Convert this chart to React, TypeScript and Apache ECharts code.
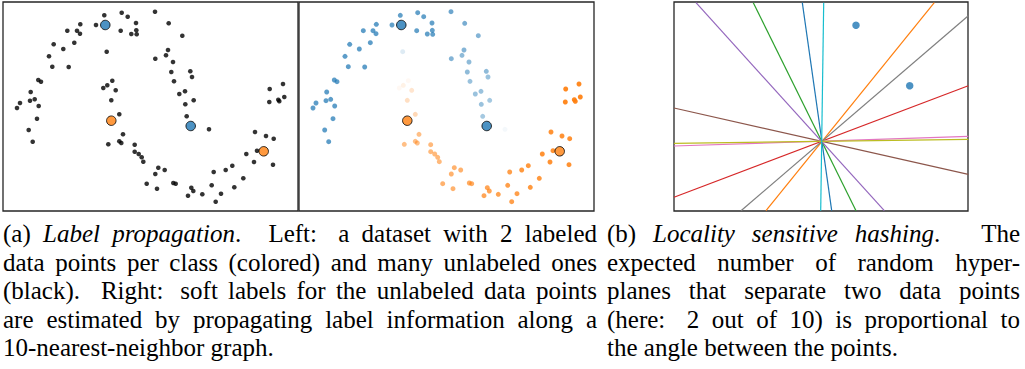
import React, { useEffect, useRef } from "react";
import * as echarts from "echarts";

// ---------- Panel (a): two-moons dataset (panel units, y up) ----------
const upperX = [101.3, 118.7, 124.7, 152, 133, 165.7, 77.3, 93, 64.3, 74, 77, 117.7, 133.3, 128.3, 133.7, 179.3, 71.3, 50.7, 60.3, 103.7, 165, 163, 152.3, 46, 170, 49.3, 65.7, 168.3, 187.3, 189, 35.3, 38, 171, 27.7, 182, 176.3, 31.7, 27, 190.7, 17, 14, 35.7, 182.3, 183.7, 34, 206, 25.7, 29.7];
const upperY = [195.7, 198.3, 194.3, 199.3, 188, 187.7, 186.7, 186, 180.3, 180.3, 177.3, 180.3, 180.7, 177, 176.7, 175.3, 168.3, 166.7, 162, 159.3, 161, 155.7, 152.3, 154.7, 149, 144.3, 144, 139, 139.7, 134, 131, 129.3, 129.7, 119, 119.7, 117, 111.7, 110.3, 110.7, 108, 103, 105, 106.7, 94.7, 92.3, 81.7, 81, 69.3];
const upperConf = [0.7, 0.7, 0.7, 0.65, 0.7, 0.6, 0.72, 0.7, 0.72, 0.72, 0.72, 0.7, 0.7, 0.7, 0.7, 0.55, 0.72, 0.72, 0.72, 0.15, 0.55, 0.5, 0.55, 0.72, 0.5, 0.72, 0.72, 0.5, 0.5, 0.45, 0.72, 0.72, 0.45, 0.72, 0.45, 0.45, 0.72, 0.72, 0.4, 0.72, 0.72, 0.72, 0.45, 0.4, 0.72, 0.05, 0.72, 0.72];

const lowerX = [109.3, 104.3, 100.3, 112.7, 266.7, 280, 108.3, 275.3, 281.3, 266.3, 276.3, 116.3, 252, 120, 263, 270.7, 116.3, 118.3, 105.3, 131.7, 131.7, 135.7, 138.7, 140.3, 243.3, 254, 251, 270, 229.3, 222.7, 155.3, 161.7, 152.3, 210.7, 240.3, 143.7, 170.3, 172.7, 208.7, 154, 231.3, 188.3, 190.3, 185, 199.3, 218, 212.7];
const lowerY = [130.3, 125.7, 123, 120.7, 122, 127, 110.7, 111.3, 114, 109, 109.7, 96.7, 79, 76.7, 75, 72.3, 69.7, 68, 66.7, 66.3, 59.3, 57, 53.7, 49.3, 57, 60.3, 49, 46.3, 45.3, 41, 43.3, 41, 37, 39, 32.7, 27.3, 28, 27.3, 25.7, 22.3, 23.7, 23.3, 20, 15.3, 16.7, 17.3, 9.3];
const lowerConf = [0.05, 0.1, 0.05, 0.2, 0.92, 0.92, 0.25, 0.92, 0.92, 0.92, 0.92, 0.3, 0.85, 0.5, 0.85, 0.85, 0.5, 0.5, 0.5, 0.55, 0.55, 0.55, 0.55, 0.55, 0.85, 0.85, 0.85, 0.85, 0.8, 0.8, 0.6, 0.6, 0.6, 0.75, 0.8, 0.6, 0.65, 0.65, 0.75, 0.6, 0.8, 0.7, 0.7, 0.7, 0.72, 0.75, 0.75];

const labeledBlueX = [102.3, 187.7];
const labeledBlueY = [186, 85];
const labeledOrangeX = [108.3, 260.7];
const labeledOrangeY = [90.3, 59.7];

// ---------- Panel (b): random hyperplanes through the origin ----------
const hyperplaneNames = ["h1", "h2", "h3", "h4", "h5", "h6", "h7", "h8", "h9", "h10"];
const hyperplaneStart = [[128.3, 208.3], [260.3, 208.3], [79.3, 208.3], [294.3, 125.3], [22, 208.3], [0, 103], [0, 65], [294.3, 195.3], [0, 67.7], [149.7, 208.3]];
const hyperplaneEnd = [[157.7, 0.3], [92, 0.3], [182, 0.3], [0, 13.7], [210.3, 0.3], [294.3, 36.7], [294.3, 74.7], [67, 0.3], [294.3, 71.7], [146.7, 0.3]];
const lshPointsX = [182, 235.7];
const lshPointsY = [185.7, 125.3];

const TAB10 = ["#1f77b4", "#ff7f0e", "#2ca02c", "#d62728", "#9467bd", "#8c564b", "#e377c2", "#7f7f7f", "#bcbd22", "#17becf"];

// ---------- Captions ----------
const captionA = [
  "(a) *Label* *propagation*. Left: a dataset with 2 labeled",
  "data points per class (colored) and many unlabeled ones",
  "(black). Right: soft labels for the unlabeled data points",
  "are estimated by propagating label information along a",
  "10-nearest-neighbor graph.",
];
const captionB = [
  "(b) *Locality* *sensitive* *hashing*. The",
  "expected number of random hyper-",
  "planes that separate two data points",
  "(here: 2 out of 10) is proportional to",
  "the angle between the points.",
];

const FS = 25;
const FAMILY = '"Liberation Serif", "Times New Roman", serif';
const LINE_GAP = 28.5;
const FIRST_BASELINE = 242;

function fontOf(italic: boolean) {
  return `${italic ? "italic" : "normal"} normal ${FS}px ${FAMILY}`;
}

function makeMeasurer() {
  const c = document.createElement("canvas");
  const ctx = c.getContext("2d") as CanvasRenderingContext2D;
  return (t: string, italic: boolean) => {
    ctx.font = fontOf(italic);
    return ctx.measureText(t).width;
  };
}

// TeX-like justification: space after '.' / ':' is wider and stretches more
function layoutCaption(lines: string[], x0: number, x1: number) {
  const measure = makeMeasurer();
  const space = measure(" ", false);
  const els: any[] = [];
  lines.forEach((line, li) => {
    const justify = li < lines.length - 1;
    const words = line.split(" ").map((p) => {
      const segs = p.split("*").map((t, i) => ({ t, it: i % 2 === 1 })).filter((s) => s.t.length);
      const w = segs.reduce((a, s) => a + measure(s.t, s.it), 0);
      return { segs, w, raw: p };
    });
    const gapNat: number[] = [];
    const gapStr: number[] = [];
    for (let i = 0; i < words.length - 1; i++) {
      const last = words[i].raw.replace(/\*/g, "").slice(-1);
      const sf = last === "." ? 3 : last === ":" ? 2 : last === "," ? 1.25 : 1;
      gapNat.push(space + (sf >= 2 ? 0.11 * FS : 0));
      gapStr.push(sf);
    }
    const sumW = words.reduce((a, w) => a + w.w, 0);
    const sumN = gapNat.reduce((a, g) => a + g, 0);
    const sumS = gapStr.reduce((a, g) => a + g, 0);
    let k = justify && sumS > 0 ? (x1 - x0 - sumW - sumN) / sumS : 0;
    const yMid = FIRST_BASELINE + li * LINE_GAP - 0.3375 * FS;
    let x = x0;
    words.forEach((w, wi) => {
      let sx = x;
      w.segs.forEach((s) => {
        els.push({
          type: "text",
          x: sx,
          y: yMid,
          silent: true,
          style: {
            text: s.t,
            font: fontOf(s.it),
            fill: "#000",
            align: "left",
            verticalAlign: "middle",
          },
        });
        sx += measure(s.t, s.it);
      });
      if (wi < gapNat.length) {
        x += w.w + (justify ? gapNat[wi] + k * gapStr[wi] : space);
      }
    });
  });
  return els;
}

function pts(xs: number[], ys: number[]) {
  return xs.map((x, i) => [x, ys[i]]);
}

export default function App() {
  const ref = useRef<HTMLDivElement>(null);
  useEffect(() => {
    if (!ref.current) return;
    const chart = echarts.init(ref.current, null, { renderer: "svg" });
    const grids = [
      { left: 3, top: 2, width: 295, height: 209 },
      { left: 299, top: 2, width: 295, height: 209 },
      { left: 674, top: 2, width: 294, height: 209 },
    ].map((g) => ({ ...g, show: true, borderColor: "#262626", borderWidth: 1.3, backgroundColor: "#fff" }));
    const ax = (i: number, max: number) => ({
      type: "value",
      gridIndex: i,
      min: 0,
      max,
      show: false,
      splitLine: { show: false },
    });
    const small = 4.6;
    const big = 9.5;
    const series: any[] = [];
    series.push({
      type: "scatter", xAxisIndex: 0, yAxisIndex: 0, symbolSize: small,
      itemStyle: { color: "#000" },
      data: [...pts(upperX, upperY), ...pts(lowerX, lowerY)],
    });
    series.push({
      type: "scatter", xAxisIndex: 1, yAxisIndex: 1, symbolSize: small + 0.4,
      data: upperX.map((x, i) => ({ value: [x, upperY[i]], itemStyle: { color: "#1f77b4", opacity: upperConf[i] } })),
    });
    series.push({
      type: "scatter", xAxisIndex: 1, yAxisIndex: 1, symbolSize: small + 0.4,
      data: lowerX.map((x, i) => ({ value: [x, lowerY[i]], itemStyle: { color: "#ff7f0e", opacity: lowerConf[i] } })),
    });
    [0, 1].forEach((gi) => {
      series.push({
        type: "scatter", xAxisIndex: gi, yAxisIndex: gi, symbolSize: big, z: 5,
        itemStyle: { color: "#1f77b4", borderColor: "#000", borderWidth: 1 },
        data: pts(labeledBlueX, labeledBlueY),
      });
      series.push({
        type: "scatter", xAxisIndex: gi, yAxisIndex: gi, symbolSize: big, z: 5,
        itemStyle: { color: "#ff7f0e", borderColor: "#000", borderWidth: 1 },
        data: pts(labeledOrangeX, labeledOrangeY),
      });
    });
    hyperplaneNames.forEach((n, i) => {
      series.push({
        type: "line", name: n, xAxisIndex: 2, yAxisIndex: 2, symbol: "none", clip: true,
        lineStyle: { color: TAB10[i], width: 1.2 },
        data: [hyperplaneStart[i], hyperplaneEnd[i]],
        z: 2 + i * 0.01,
      });
    });
    series.push({
      type: "scatter", xAxisIndex: 2, yAxisIndex: 2, symbolSize: 7.5, z: 4,
      itemStyle: { color: "#1f77b4" },
      data: pts(lshPointsX, lshPointsY),
    });

    chart.setOption({
      animation: false,
      backgroundColor: "#fff",
      grid: grids,
      xAxis: [ax(0, 295), ax(1, 295), ax(2, 294)],
      yAxis: [ax(0, 209), ax(1, 209), ax(2, 209)],
      series,
      graphic: [...layoutCaption(captionA, 3, 597), ...layoutCaption(captionB, 607, 1020)],
    });
    return () => chart.dispose();
  }, []);
  return (
    <div
      ref={ref}
      style={{ position: "fixed", left: 0, top: 0, width: 1025, height: 369, background: "#fff" }}
    />
  );
}
